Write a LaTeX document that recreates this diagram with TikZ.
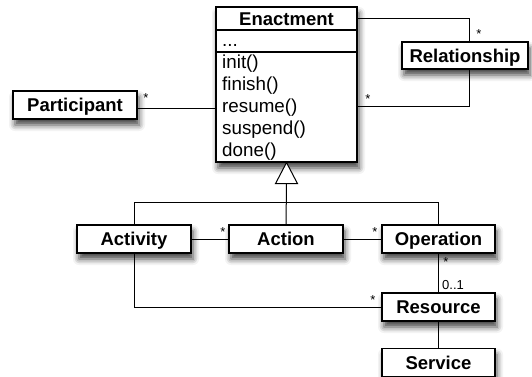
\documentclass[tikz,border=0pt]{standalone}
\usepackage{fontspec}
\setmainfont{Liberation Sans}
\usetikzlibrary{shadows.blur}
\begin{document}
\begin{tikzpicture}[x=1pt,y=-1pt,
  boldf/.style={font=\bfseries\fontsize{18.5}{22}\selectfont},
  regf/.style={font=\fontsize{18.8}{22}\selectfont},
  box/.style={draw, line width=1.2pt, fill=white, inner sep=0pt,
    text height=13.3pt, text depth=0pt, minimum height=28pt, boldf,
    blur shadow={shadow xshift=2pt, shadow yshift=-6pt, shadow blur radius=6pt, shadow opacity=75}},
  conn/.style={line width=1pt},
  mult/.style={font=\fontsize{13}{13}\selectfont, inner sep=0pt}
]
\useasboundingbox (0,0) rectangle (532,376);

% Enactment class
\node[box, minimum width=141pt, minimum height=155pt] (enact) at (286.5,84.5) {};
\draw[line width=1.2pt] (enact.west |- 0,30) -- (enact.east |- 0,30);
\draw[line width=1.2pt] (enact.west |- 0,52) -- (enact.east |- 0,52);
\node[boldf, anchor=base, inner sep=0pt] (etitle) at (286.5,25) {Enactment};
\node[regf, anchor=base west, inner sep=0pt] (eattr) at (222,46.5) {...};
\node[regf, anchor=base west, inner sep=0pt] (m1) at (222,68.5) {init()};
\node[regf, anchor=base west, inner sep=0pt] (m2) at (222,90.5) {finish()};
\node[regf, anchor=base west, inner sep=0pt] (m3) at (222,112.5) {resume()};
\node[regf, anchor=base west, inner sep=0pt] (m4) at (222,134.5) {suspend()};
\node[regf, anchor=base west, inner sep=0pt] (m5) at (222,156.5) {done()};

% other classes
\node[box, minimum width=124pt] (part) at (75,105) {Participant};
\node[box, minimum width=126pt, minimum height=27pt] (rel) at (465,55.5) {Relationship};
\node[box, minimum width=114pt] (activity) at (134,239) {Activity};
\node[box, minimum width=114pt] (action) at (286,239) {Action};
\node[box, minimum width=113pt] (oper) at (438.5,239) {Operation};
\node[box, minimum width=113pt] (res) at (438.5,307) {Resource};
\node[box, minimum width=113pt] (serv) at (438.5,362.5) {Service};

% associations
\draw[conn] (enact.east |- 0,18) -| ([xshift=4pt]rel.north);
\draw[conn] ([xshift=4pt]rel.south) |- (enact.east |- 0,106);
\draw[conn] ([yshift=-3pt]part.east) -- (enact.west |- 0,108);
\draw[conn] (activity) -- (action);
\draw[conn] (action) -- (oper);
\draw[conn] (oper) -- (res);
\draw[conn] (activity.south) |- (res.west);
\draw[conn] (res) -- (serv);

% generalization
\draw[conn, fill=white] (enact.south) -- ++(-11,21) coordinate (tl) -- ++(22,0) -- cycle;
\coordinate (tribase) at ([yshift=-21pt]enact.south);
\coordinate (junc) at ([yshift=-40pt]enact.south);
\draw[conn] (tribase) -- (action.north);
\draw[conn] (activity.north) |- (junc) -| (oper.north);

% multiplicities
\node[mult] (s1) at (479,34) {*};
\node[mult] (s2) at (368,99) {*};
\node[mult] (s3) at (146,98) {*};
\node[mult] (s4) at (223,232) {*};
\node[mult] (s5) at (375,232) {*};
\node[mult] (s6) at (446,262) {*};
\node[mult] (s7) at (373,300) {*};
\node[mult] (z1) at (453,285) {0..1};
\end{tikzpicture}
\end{document}
